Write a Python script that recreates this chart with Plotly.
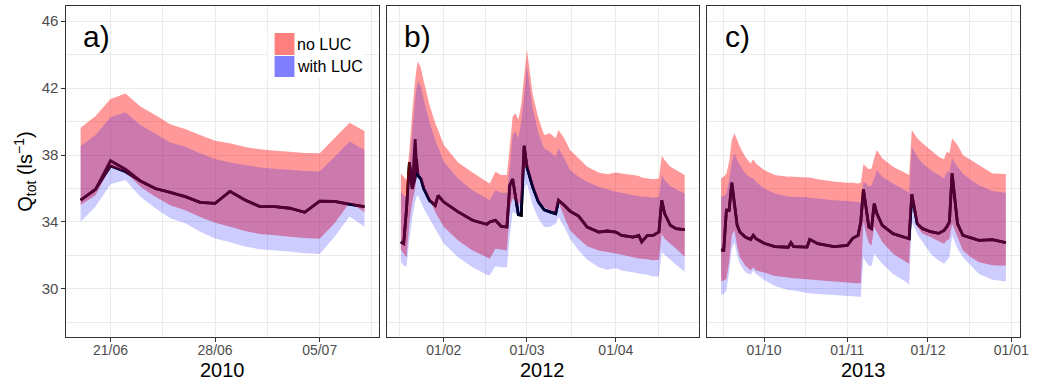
import plotly.graph_objects as go
import pandas as pd

W, H = 1038, 382

# ---------------- data ----------------
# Panel a) 2010, daily 19/06 .. 08/07
dates_a = [d.strftime("%Y-%m-%d") for d in pd.date_range("2010-06-19", "2010-07-08", freq="D")]
noluc_hi_a = [39.63, 40.33, 41.34, 41.68, 40.89, 40.39, 39.83, 39.55, 39.19, 38.85,
              38.70, 38.48, 38.34, 38.26, 38.20, 38.12, 38.10, 39.01, 39.93, 39.43]
noluc_lo_a = [35.01, 35.6, 37.3, 37.0, 36.1, 35.5, 35.0, 34.7, 34.3, 33.96,
              33.72, 33.46, 33.28, 33.2, 33.12, 33.04, 33.0, 33.92, 35.15, 34.6]
luc_hi_a = [38.54, 39.19, 40.25, 40.55, 39.79, 39.29, 38.74, 38.50, 38.10, 37.76,
            37.56, 37.40, 37.26, 37.18, 37.12, 37.04, 37.02, 37.90, 38.80, 38.30]
luc_lo_a = [34.02, 34.92, 36.25, 36.5, 35.51, 34.82, 34.22, 33.92, 33.42, 33.02,
            32.79, 32.53, 32.37, 32.29, 32.23, 32.13, 32.09, 33.12, 34.32, 33.72]
noluc_med_a = [35.31, 35.95, 37.66, 37.15, 36.45, 36.0, 35.77, 35.51, 35.17, 35.11,
               35.83, 35.31, 34.92, 34.92, 34.82, 34.58, 35.25, 35.23, 35.07, 34.92]
luc_med_a = [35.31, 35.95, 37.35, 37.0, 36.45, 36.0, 35.77, 35.51, 35.17, 35.11,
             35.83, 35.31, 34.92, 34.92, 34.82, 34.58, 35.25, 35.23, 35.05, 34.92]

# Panel b) 2012
dates_b = ["2012-01-17", "2012-01-18", "2012-01-19", "2012-01-20", "2012-01-21", "2012-01-22",
           "2012-01-22 12:00", "2012-01-23", "2012-01-24", "2012-01-25", "2012-01-27", "2012-01-29",
           "2012-01-30", "2012-02-01", "2012-02-06", "2012-02-11", "2012-02-16", "2012-02-17",
           "2012-02-19", "2012-02-21", "2012-02-23", "2012-02-24", "2012-02-25", "2012-02-26",
           "2012-02-27", "2012-02-28", "2012-02-29", "2012-03-01", "2012-03-03", "2012-03-05",
           "2012-03-07", "2012-03-09", "2012-03-11", "2012-03-12", "2012-03-14", "2012-03-16",
           "2012-03-19", "2012-03-22", "2012-03-26", "2012-03-29", "2012-04-01", "2012-04-03",
           "2012-04-07", "2012-04-09", "2012-04-10", "2012-04-12", "2012-04-14", "2012-04-16",
           "2012-04-17", "2012-04-18", "2012-04-20", "2012-04-22", "2012-04-25"]
noluc_hi_b = [36.9, 36.7, 36.5, 38.3, 40.6, 42.5, 43.2, 43.6, 43.2, 42.4,
              41.0, 39.9, 39.5, 38.6, 37.55, 36.95, 36.4, 36.3, 37.0, 36.8,
              36.8, 38.5, 40.3, 40.5, 40.1, 41.0, 42.7, 44.3, 41.6, 40.2,
              39.2, 39.3, 39.0, 39.5, 39.0, 38.3, 37.8, 37.3, 36.95, 36.85,
              36.95, 36.9, 36.8, 36.75, 36.65, 36.6, 36.55, 36.6, 37.95, 37.7,
              37.3, 37.1, 36.8]
noluc_lo_b = [32.35, 32.1, 31.9, 34.0, 35.2, 36.0, 37.0, 36.9, 36.7, 36.1,
              35.35, 34.6, 34.3, 33.7, 32.9, 32.3, 31.9, 31.8, 32.4, 32.35,
              32.3, 34.8, 35.4, 35.3, 35.0, 35.3, 37.0, 37.4, 36.3, 35.3,
              34.9, 34.7, 34.6, 35.2, 34.3, 33.5, 33.0, 32.55, 32.3, 32.2,
              32.12, 32.05, 31.9, 31.82, 31.8, 31.78, 31.72, 31.75, 33.3, 33.0,
              32.7, 32.4, 31.92]
luc_hi_b = [35.8, 35.6, 35.5, 37.2, 39.4, 41.3, 42.0, 42.4, 42.1, 41.3,
            40.0, 38.9, 38.5, 37.6, 36.6, 35.9, 35.4, 35.3, 35.9, 35.75,
            35.75, 37.3, 39.2, 39.4, 39.0, 40.0, 41.6, 43.3, 40.8, 39.3,
            38.4, 38.2, 37.9, 38.4, 37.8, 37.1, 36.7, 36.4, 36.1, 35.95,
            35.8, 35.75, 35.6, 35.55, 35.5, 35.5, 35.45, 35.5, 36.8, 36.5,
            36.15, 35.95, 35.7]
luc_lo_b = [31.62, 31.4, 31.33, 33.0, 34.3, 35.2, 35.5, 35.6, 35.2, 34.8,
            34.2, 33.6, 33.3, 32.7, 31.9, 31.3, 30.85, 30.8, 31.35, 31.3,
            31.3, 33.2, 34.6, 34.5, 34.3, 34.5, 36.0, 36.3, 35.0, 34.2,
            33.7, 33.7, 33.9, 34.3, 33.7, 33.0, 32.3, 31.75, 31.3, 31.15,
            31.23, 31.1, 31.0, 30.93, 30.9, 30.85, 30.75, 30.75, 32.2, 32.05,
            31.75, 31.45, 31.03]
noluc_med_b = [32.81, 32.71, 34.8, 37.56, 35.98, 38.95, 37.3, 36.77, 36.57, 36.0,
               35.29, 34.99, 35.58, 35.19, 34.6, 34.1, 33.86, 34.0, 34.1, 33.74,
               33.7, 36.18, 36.57, 35.6, 34.44, 34.4, 38.55, 37.27, 36.08, 35.19,
               34.73, 34.6, 34.5, 35.29, 35.0, 34.65, 34.35, 33.7, 33.4, 33.46,
               33.4, 33.2, 33.1, 33.2, 32.81, 33.2, 33.2, 33.4, 35.29, 34.5,
               33.8, 33.6, 33.54]
luc_med_b = [32.81, 32.71, 34.8, 37.56, 35.98, 36.6, 37.76, 36.77, 36.57, 36.0,
             35.29, 34.99, 35.58, 35.19, 34.6, 34.1, 33.86, 34.0, 34.1, 33.74,
             33.7, 36.18, 36.57, 35.6, 34.44, 34.4, 38.55, 37.27, 36.08, 35.19,
             34.73, 34.6, 34.5, 35.29, 35.0, 34.65, 34.35, 33.7, 33.4, 33.46,
             33.4, 33.2, 33.1, 33.2, 32.81, 33.2, 33.2, 33.4, 35.29, 34.5,
             33.8, 33.6, 33.54]

# Panel c) 2013
dates_c = ["2013-09-15", "2013-09-16", "2013-09-17", "2013-09-18", "2013-09-19", "2013-09-20",
           "2013-09-21", "2013-09-22", "2013-09-24", "2013-09-26", "2013-09-27", "2013-09-28",
           "2013-10-01", "2013-10-05", "2013-10-10", "2013-10-11", "2013-10-12", "2013-10-17",
           "2013-10-18", "2013-10-21", "2013-10-27", "2013-11-01", "2013-11-03", "2013-11-05",
           "2013-11-06", "2013-11-07", "2013-11-08", "2013-11-09", "2013-11-10", "2013-11-11",
           "2013-11-12", "2013-11-14", "2013-11-18", "2013-11-23", "2013-11-24", "2013-11-25",
           "2013-11-27", "2013-11-29", "2013-12-02", "2013-12-05", "2013-12-07", "2013-12-08",
           "2013-12-09", "2013-12-10", "2013-12-12", "2013-12-14", "2013-12-17", "2013-12-20",
           "2013-12-25", "2013-12-30"]
noluc_hi_c = [36.61, 36.7, 36.9, 37.6, 38.9, 39.3, 38.9, 38.5, 37.9, 37.5,
              37.75, 37.5, 37.1, 36.8, 36.7, 36.72, 36.7, 36.65, 36.65, 36.55,
              36.42, 36.35, 36.35, 36.3, 36.35, 37.45, 37.3, 37.15, 37.2, 37.8,
              38.3, 37.8, 37.3, 36.9, 36.8, 39.5, 39.0, 38.7, 38.3, 37.9,
              37.75, 38.2, 38.1, 39.0, 38.6, 38.0, 37.7, 37.4, 36.9, 36.87]
noluc_lo_c = [30.48, 30.5, 30.6, 31.6, 33.2, 33.5, 32.5, 31.9, 31.4, 31.1,
              31.3, 31.1, 30.98, 30.78, 30.68, 30.66, 30.64, 30.58, 30.57, 30.52,
              30.44, 30.38, 30.36, 30.34, 30.34, 34.0, 33.3, 32.75, 32.6, 33.7,
              33.4, 32.8, 32.1, 31.6, 31.5, 35.1, 33.7, 33.3, 33.1, 32.85,
              32.7, 32.9, 33.0, 33.9, 33.1, 32.3, 31.9, 31.6, 31.42, 31.39]
luc_hi_c = [35.51, 35.55, 35.7, 36.5, 37.6, 38.1, 37.7, 37.4, 36.9, 36.65,
            36.6, 36.4, 36.0, 35.7, 35.52, 35.5, 35.5, 35.47, 35.45, 35.4,
            35.3, 35.25, 35.23, 35.2, 35.2, 36.4, 36.3, 36.1, 36.2, 36.6,
            37.1, 36.7, 36.3, 35.85, 35.75, 38.5, 37.9, 37.5, 37.1, 36.8,
            36.6, 37.0, 37.0, 37.8, 37.3, 36.9, 36.5, 36.2, 35.85, 35.75]
luc_lo_c = [29.64, 29.7, 29.9, 31.0, 32.4, 32.8, 32.0, 31.5, 31.0, 30.85,
            31.1, 30.9, 30.54, 30.18, 29.94, 29.92, 29.9, 29.76, 29.74, 29.7,
            29.64, 29.58, 29.56, 29.54, 29.54, 31.9, 31.6, 31.4, 31.35, 32.1,
            31.9, 31.5, 30.9, 30.4, 30.25, 34.0, 33.3, 32.8, 32.1, 31.7,
            31.5, 31.7, 31.9, 33.2, 32.4, 31.9, 31.4, 30.9, 30.55, 30.44]
noluc_med_c = [32.33, 32.3, 34.7, 34.7, 36.35, 35.2, 33.8, 33.4, 33.1, 32.96,
               33.2, 33.0, 32.73, 32.53, 32.49, 32.77, 32.53, 32.5, 32.96, 32.7,
               32.53, 32.6, 33.02, 33.2, 34.0, 35.95, 34.9, 33.7, 33.6, 35.1,
               34.5, 33.8, 33.3, 33.02, 33.0, 35.65, 33.9, 33.6, 33.42, 33.32,
               33.5, 33.7, 34.0, 36.9, 33.9, 33.2, 33.05, 32.9, 32.95, 32.77]
luc_med_c = list(noluc_med_c)

panel_labels = ["a)", "b)", "c)"]
year_labels = ["2010", "2012", "2013"]
legend_labels = ["no LUC", "with LUC"]
y_major = [30, 34, 38, 42, 46]
y_minor = [28, 32, 36, 40, 44]

# ---------------- layout geometry (pixels) ----------------
panels_px = [(67, 382), (390, 705), (713, 1029)]
top_px, bot_px = 6, 337
FONT = "Liberation Sans, Arial, Helvetica, sans-serif"

x_ranges = [["2010-06-18 01:12", "2010-07-08 22:48"],
            ["2012-01-12 01:12", "2012-04-29 22:48"],
            ["2013-09-09 16:48", "2014-01-04 07:12"]]
x_major = [(["2010-06-21", "2010-06-28", "2010-07-05"], ["21/06", "28/06", "05/07"]),
           (["2012-02-01", "2012-03-01", "2012-04-01"], ["01/02", "01/03", "01/04"]),
           (["2013-10-01", "2013-11-01", "2013-12-01", "2014-01-01"], ["01/10", "01/11", "01/12", "01/01"])]
x_minor = [["2010-06-24 12:00", "2010-07-01 12:00", "2010-07-08 12:00"],
           ["2012-01-16 12:00", "2012-02-15 12:00", "2012-03-16 12:00", "2012-04-16"],
           ["2013-09-16", "2013-10-16 12:00", "2013-11-16", "2013-12-16 12:00"]]

RED = "rgba(255,0,0,0.4)"
BLUE = "rgba(0,0,255,0.2)"

panels = [
    (dates_a, noluc_hi_a, noluc_lo_a, luc_hi_a, luc_lo_a, noluc_med_a, luc_med_a),
    (dates_b, noluc_hi_b, noluc_lo_b, luc_hi_b, luc_lo_b, noluc_med_b, luc_med_b),
    (dates_c, noluc_hi_c, noluc_lo_c, luc_hi_c, luc_lo_c, noluc_med_c, luc_med_c),
]

fig = go.Figure()
for i, (d, rh, rl, bh, bl, mn, mw) in enumerate(panels):
    xa = "x" if i == 0 else f"x{i+1}"
    ya = "y" if i == 0 else f"y{i+1}"
    # medians (black lines, below the translucent bands)
    for med in (mw, mn):
        fig.add_trace(go.Scatter(x=d, y=med, mode="lines", xaxis=xa, yaxis=ya,
                                 line=dict(color="black", width=2.8), showlegend=False,
                                 hoverinfo="skip"))
    # no LUC band
    fig.add_trace(go.Scatter(x=list(d) + list(d)[::-1], y=list(rh) + list(rl)[::-1],
                             fill="toself", fillcolor=RED, mode="none", xaxis=xa, yaxis=ya,
                             showlegend=False, hoverinfo="skip"))
    # with LUC band
    fig.add_trace(go.Scatter(x=list(d) + list(d)[::-1], y=list(bh) + list(bl)[::-1],
                             fill="toself", fillcolor=BLUE, mode="none", xaxis=xa, yaxis=ya,
                             showlegend=False, hoverinfo="skip"))

layout = dict(width=W, height=H, margin=dict(l=0, r=0, t=0, b=0),
              paper_bgcolor="white", plot_bgcolor="white", showlegend=False,
              font=dict(family=FONT, color="black"))

for i in range(3):
    xl, xr = panels_px[i]
    key = "xaxis" if i == 0 else f"xaxis{i+1}"
    ykey = "yaxis" if i == 0 else f"yaxis{i+1}"
    yanc = "y" if i == 0 else f"y{i+1}"
    layout[key] = dict(
        type="date", domain=[xl / W, xr / W], anchor=yanc, range=x_ranges[i],
        tickmode="array", tickvals=x_major[i][0], ticktext=x_major[i][1],
        showline=True, mirror=True, linecolor="#333333", linewidth=1.2,
        ticks="outside", ticklen=4, tickcolor="#333333", tickwidth=1,
        ticklabelstandoff=-4, ticklabeloverflow="allow",
        showgrid=True, gridcolor="#EBEBEB", gridwidth=1.1, zeroline=False,
        tickfont=dict(size=14, color="#4D4D4D", family=FONT),
        minor=dict(tickmode="array", tickvals=x_minor[i], showgrid=True,
                   gridcolor="#EBEBEB", gridwidth=0.6, ticks=""),
    )
    layout[ykey] = dict(
        domain=[1 - bot_px / H, 1 - top_px / H], anchor="x" if i == 0 else f"x{i+1}",
        range=[27.13, 46.9], tickmode="array", tickvals=y_major,
        ticktext=[str(v) for v in y_major],
        showline=True, mirror=True, linecolor="#333333", linewidth=1.2,
        ticks="outside" if i == 0 else "", ticklen=4, tickcolor="#333333", tickwidth=1,
        showticklabels=(i == 0),
        showgrid=True, gridcolor="#EBEBEB", gridwidth=1.1, zeroline=False,
        tickfont=dict(size=15, color="#4D4D4D", family=FONT),
        minor=dict(tickmode="array", tickvals=y_minor, showgrid=True,
                   gridcolor="#EBEBEB", gridwidth=0.6, ticks=""),
    )
    if i > 0:
        layout[ykey]["matches"] = "y"

annotations = []
shapes = []
# panel labels and year titles
label_x = [82, 406, 729]
for i in range(3):
    annotations.append(dict(text=panel_labels[i], x=label_x[i] / W, y=1 - 37 / H,
                            xref="paper", yref="paper", xanchor="left", yanchor="middle",
                            showarrow=False, font=dict(size=30, color="black", family=FONT)))
    xl, xr = panels_px[i]
    annotations.append(dict(text=year_labels[i], x=(xl + xr) / 2 / W, y=1 - 370 / H,
                            xref="paper", yref="paper", xanchor="center", yanchor="middle",
                            showarrow=False, font=dict(size=20, color="black", family=FONT)))
# y-axis title
annotations.append(dict(text="Q<sub>tot</sub> (ls<sup>−1</sup>)", x=26 / W, y=1 - 172 / H,
                        xref="paper", yref="paper", xanchor="center", yanchor="middle",
                        textangle=-90, showarrow=False,
                        font=dict(size=20, color="black", family=FONT)))
# legend (inside panel a)
shapes.append(dict(type="rect", xref="paper", yref="paper", x0=270 / W, x1=368 / W,
                   y0=1 - 78 / H, y1=1 - 31 / H, fillcolor="white", line=dict(width=0),
                   layer="above"))
key_cols = ["#FF7F7F", "#7F7FFF"]
key_rows = [(33, 55), (56, 77)]
for (t0, t1), col, lab in zip(key_rows, key_cols, legend_labels):
    shapes.append(dict(type="rect", xref="paper", yref="paper", x0=277 / W, x1=297 / W,
                       y0=1 - t1 / H, y1=1 - t0 / H, fillcolor=col, line=dict(width=0),
                       layer="above"))
    annotations.append(dict(text=lab, x=298 / W, y=1 - (t0 + t1) / 2 / H,
                            xref="paper", yref="paper", xanchor="left", yanchor="middle",
                            showarrow=False, font=dict(size=16, color="black", family=FONT)))

layout["annotations"] = annotations
layout["shapes"] = shapes
fig.update_layout(**layout)

fig.write_html("out.html", config={"displayModeBar": False},
               post_script=("document.body.style.margin='0';"
                            "document.body.style.overflow='hidden';"
                            "document.documentElement.style.overflow='hidden';"
                            "var gd=document.querySelector('.plotly-graph-div');"
                            "if(gd){gd.style.overflow='hidden';}"))
